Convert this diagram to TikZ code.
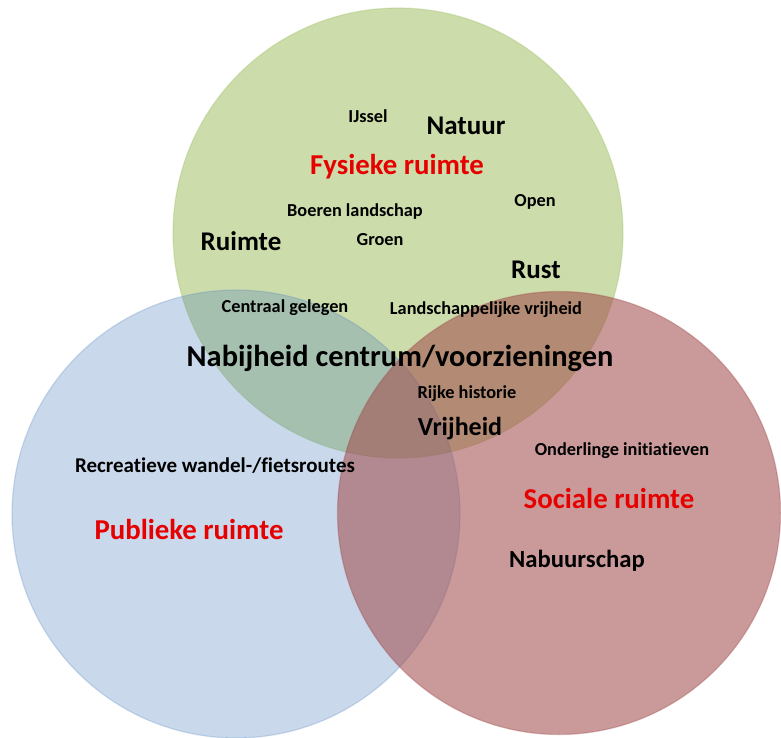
\documentclass[tikz,border=0pt]{standalone}
\usepackage{fontspec}
\setmainfont{Carlito}[Ligatures=NoCommon]
\definecolor{cgreen}{HTML}{9BBB59}
\definecolor{cblue}{HTML}{4F81BD}
\definecolor{cred}{HTML}{A04848}
\definecolor{tred}{HTML}{E60000}
\begin{document}
\begin{tikzpicture}[x=1pt,y=-1pt,
  setcircle/.style={circle,minimum size=#1,inner sep=0pt},
  lbl/.style={font=\bfseries,text=black,inner sep=0pt,anchor=center},
  small/.style={lbl,font=\bfseries\fontsize{18.3}{20}\selectfont},
  mid/.style={lbl,font=\bfseries\fontsize{24.7}{26}\selectfont},
  big/.style={lbl,font=\bfseries\fontsize{27}{29}\selectfont},
  title/.style={lbl,text=tred,font=\bfseries\fontsize{28.8}{30}\selectfont}]
\useasboundingbox (0,0) rectangle (781,738);
\fill[white] (0,0) rectangle (781,738);
\node[setcircle=450pt, fill=cgreen, fill opacity=0.5, draw=cgreen, draw opacity=0.3, line width=1.2pt] (g) at (398,233) {};
\node[setcircle=448pt, fill=cblue, fill opacity=0.3, draw=cblue, draw opacity=0.25, line width=1.2pt] (b) at (236,514) {};
\node[setcircle=443pt, fill=cred, fill opacity=0.55, draw=cred, draw opacity=0.35, line width=1.2pt] (r) at (559,513) {};

\node[small] (ijssel) at (368,116) {IJssel};
\node[big] (natuur) at (466,126) {Natuur};
\node[title] (fys) at (397,167) {Fysieke ruimte};
\node[small] (boeren) at (355,212) {Boeren landschap};
\node[small] (open) at (535,202) {Open};
\node[big] (ruimte) at (241,241) {Ruimte};
\node[small] (groen) at (380,240) {Groen};
\node[big] (rust) at (536,270) {Rust};
\node[small] (centraal) at (285,308) {Centraal gelegen};
\node[small] (landsch) at (486,310) {Landschappelijke vrijheid};
\node[lbl,font=\bfseries\fontsize{30.4}{32}\selectfont] (nabij) at (400,358) {Nabijheid centrum/voorzieningen};
\node[small] (rijke) at (467,394) {Rijke historie};
\node[lbl,font=\bfseries\fontsize{26}{28}\selectfont] (vrij) at (460,429) {Vrijheid};
\node[lbl,font=\bfseries\fontsize{21}{22}\selectfont] (recr) at (215,466) {Recreatieve wandel-/fietsroutes};
\node[small] (onder) at (622,451) {Onderlinge initiatieven};
\node[title] (soc) at (609,498) {Sociale ruimte};
\node[title] (pub) at (189,529) {Publieke ruimte};
\node[mid] (nabuur) at (577,561) {Nabuurschap};
\end{tikzpicture}
\end{document}
